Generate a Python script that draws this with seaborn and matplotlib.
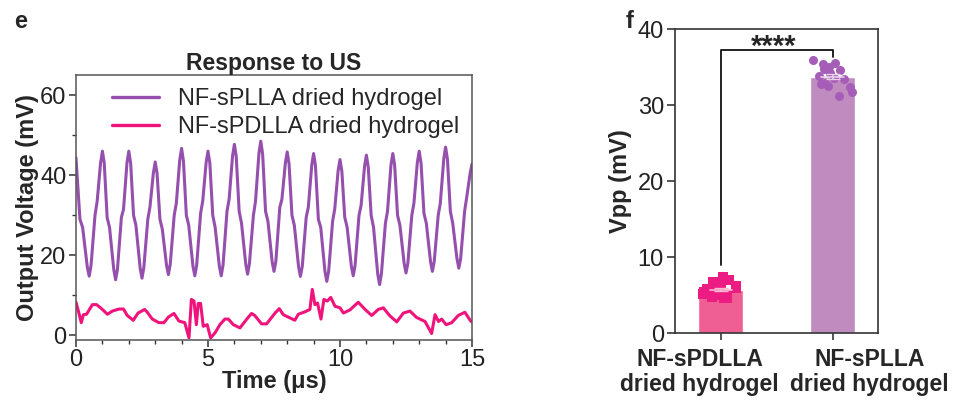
import numpy as np
import pandas as pd
import matplotlib
matplotlib.use("Agg")
import matplotlib.pyplot as plt
from matplotlib.ticker import MultipleLocator
from matplotlib.transforms import blended_transform_factory
import seaborn as sns

# ---------------- data: panel e ----------------
splla_t = [0.0, 0.15, 0.25, 0.43, 0.5, 0.57, 0.72, 0.8, 0.93,
           1.0, 1.07, 1.18, 1.27, 1.43, 1.5, 1.57, 1.72, 1.8, 1.93,
           2.0, 2.07, 2.18, 2.27, 2.43, 2.5, 2.57, 2.72, 2.8, 2.93,
           3.0, 3.07, 3.18, 3.27, 3.43, 3.5, 3.57, 3.72, 3.8, 3.93,
           4.0, 4.07, 4.18, 4.27, 4.43, 4.5, 4.57, 4.72, 4.8, 4.93,
           5.0, 5.07, 5.18, 5.27, 5.43, 5.5, 5.57, 5.72, 5.8, 5.93,
           6.0, 6.07, 6.18, 6.27, 6.43, 6.5, 6.57, 6.72, 6.8, 6.93,
           7.0, 7.07, 7.18, 7.27, 7.43, 7.5, 7.57, 7.72, 7.8, 7.93,
           8.0, 8.07, 8.18, 8.27, 8.43, 8.5, 8.57, 8.72, 8.8, 8.93,
           9.0, 9.07, 9.18, 9.27, 9.43, 9.5, 9.57, 9.72, 9.8, 9.93,
           10.0, 10.07, 10.18, 10.27, 10.43, 10.5, 10.57, 10.72, 10.8, 10.93,
           11.0, 11.07, 11.18, 11.27, 11.43, 11.5, 11.57, 11.72, 11.8, 11.93,
           12.0, 12.07, 12.18, 12.27, 12.43, 12.5, 12.57, 12.72, 12.8, 12.93,
           13.0, 13.07, 13.18, 13.27, 13.43, 13.5, 13.57, 13.72, 13.8, 13.93,
           14.0, 14.07, 14.18, 14.27, 14.43, 14.5, 14.57, 14.72, 14.8, 14.93,
           15.0]
splla_v = [44.3, 29.0, 27.0, 17.0, 14.8, 17.5, 30.0, 33.4, 43.0,
           46.0, 43.0, 29.4, 27.0, 16.5, 13.9, 16.5, 29.5, 31.5, 43.0,
           46.0, 43.0, 30.0, 27.5, 16.8, 14.3, 17.0, 29.0, 32.0, 40.5,
           43.3, 40.5, 29.0, 26.5, 17.5, 15.2, 17.8, 30.0, 33.0, 43.8,
           46.7, 43.5, 30.0, 27.5, 17.3, 14.9, 17.5, 30.5, 33.5, 43.2,
           46.0, 43.0, 30.0, 27.0, 17.3, 14.9, 17.6, 31.0, 34.0, 44.8,
           47.7, 44.6, 31.0, 28.0, 17.8, 15.3, 18.0, 30.0, 33.5, 45.5,
           48.5, 45.2, 31.0, 28.5, 18.4, 16.0, 18.5, 32.0, 34.0, 43.0,
           45.8, 42.8, 30.0, 27.5, 17.2, 14.75, 17.2, 29.5, 32.0, 42.5,
           45.4, 42.4, 29.0, 27.0, 16.0, 13.5, 16.0, 28.5, 31.5, 41.2,
           43.9, 41.0, 29.5, 27.0, 17.3, 14.9, 17.4, 30.0, 32.5, 42.2,
           45.0, 42.0, 30.0, 27.0, 15.3, 12.7, 15.5, 28.0, 31.0, 42.5,
           45.4, 42.5, 30.0, 27.5, 18.0, 15.6, 18.0, 30.0, 33.0, 43.2,
           46.0, 43.0, 30.5, 28.0, 18.4, 16.0, 18.5, 30.0, 33.0, 44.0,
           47.0, 44.0, 31.0, 28.0, 19.2, 16.8, 19.2, 31.0, 34.5, 40.5,
           42.8]

spdlla_t = [0.0, 0.11, 0.2, 0.28, 0.4, 0.62, 0.78, 1.0, 1.19, 1.38, 1.63, 1.8,
            1.94, 2.17, 2.35, 2.6, 2.7, 2.89, 3.14, 3.33, 3.5, 3.71, 3.9, 4.12,
            4.28, 4.37, 4.47, 4.56, 4.63, 4.72, 4.82, 4.97, 5.1, 5.27, 5.45, 5.64,
            5.77, 5.96, 6.21, 6.47, 6.65, 6.77, 7.03, 7.22, 7.35, 7.54, 7.7, 7.85,
            8.1, 8.29, 8.42, 8.67, 8.86, 8.95, 9.05, 9.15, 9.28, 9.39, 9.52, 9.65,
            9.81, 10.0, 10.13, 10.38, 10.69, 10.95, 11.2, 11.45, 11.64, 11.89, 12.15, 12.4,
            12.65, 12.9, 13.22, 13.47, 13.6, 13.73, 13.85, 14.02, 14.23, 14.48, 14.73, 14.95,
            15.0]
spdlla_v = [8.3, 5.6, 3.2, 5.2, 5.3, 7.7, 7.7, 6.5, 5.3, 6.1, 6.6, 6.6,
            5.0, 3.8, 5.6, 6.5, 5.8, 4.1, 3.2, 3.2, 4.6, 5.5, 3.6, 3.2,
            -0.6, 9.0, 8.6, 2.7, 8.0, 8.0, 2.3, 2.7, -0.6, 0.7, 2.7, 4.1,
            4.1, 2.7, 1.9, 4.1, 5.5, 5.0, 2.9, 2.9, 4.0, 5.6, 6.7, 5.2,
            4.4, 3.8, 5.3, 5.9, 6.5, 11.5, 7.7, 8.1, 4.1, 9.0, 8.6, 9.5,
            7.3, 6.9, 5.6, 6.4, 8.3, 6.5, 5.0, 6.5, 6.9, 4.9, 3.4, 5.6,
            6.1, 4.5, 3.5, 0.5, 5.2, 3.5, 4.1, 2.7, 3.2, 5.0, 5.8, 3.6,
            3.4]

series_names = ["NF-sPLLA dried hydrogel", "NF-sPDLLA dried hydrogel"]

# ---------------- data: panel f ----------------
groups = ["NF-sPDLLA\ndried hydrogel", "NF-sPLLA\ndried hydrogel"]
spdlla_vpp = [7.4, 7.0, 6.8, 6.6, 6.2, 6.0, 5.8, 5.6, 5.5, 5.4, 5.2, 5.0, 5.0, 4.8, 4.7, 4.6]
splla_vpp = [36.0, 35.6, 35.4, 35.0, 34.8, 34.6, 34.2, 33.8, 33.6, 33.4, 33.0, 32.8, 32.6, 32.4, 31.8, 31.2]
sig_label = "****"

# ---------------- style ----------------
sns.set_theme(style="ticks")
plt.rcParams["font.family"] = ["Liberation Sans", "DejaVu Sans"]
plt.rcParams["axes.linewidth"] = 1.2

PURPLE = "#9550AE"
PINK = "#F0137B"
BAR_PINK = "#EF5F93"
BAR_PURPLE = "#C08CC0"
DOT_PINK = "#EC1C82"
DOT_PURPLE = "#A55DB8"

TICK_FS = 17
LABEL_FS = 17

fig = plt.figure(figsize=(9.6, 4.04), dpi=100)

# ---------------- panel e ----------------
ax1 = fig.add_axes([76 / 960, 1 - 339.5 / 404, (472 - 76) / 960, (339.5 - 75) / 404])
df_line = pd.concat([
    pd.DataFrame({"t": splla_t, "v": splla_v, "s": series_names[0]}),
    pd.DataFrame({"t": spdlla_t, "v": spdlla_v, "s": series_names[1]}),
])
sns.lineplot(data=df_line, x="t", y="v", hue="s", palette=[PURPLE, PINK],
             estimator=None, sort=False, lw=2.2, ax=ax1)
ax1.set_xlim(0, 15)
ax1.set_ylim(-1, 65)
ax1.xaxis.set_major_locator(MultipleLocator(5))
ax1.xaxis.set_minor_locator(MultipleLocator(1))
ax1.yaxis.set_major_locator(MultipleLocator(20))
ax1.yaxis.set_minor_locator(MultipleLocator(10))
ax1.tick_params(axis="both", which="major", direction="out", length=5, width=1.1,
                labelsize=TICK_FS, colors="#333333", labelcolor="#222222", pad=2)
ax1.tick_params(axis="both", which="minor", direction="out", length=3, width=1.0, colors="#333333")
for sp in ax1.spines.values():
    sp.set_color("#555555")
    sp.set_linewidth(1.1)
ax1.set_xlabel("Time (μs)", fontsize=LABEL_FS, fontweight="bold", labelpad=-1)
ax1.set_ylabel("Output Voltage (mV)", fontsize=LABEL_FS, fontweight="bold", labelpad=1)
ax1.set_title("Response to US", fontsize=16.5, fontweight="bold", pad=3)
leg = ax1.legend(loc="upper right", frameon=False, fontsize=17, handlelength=2.0,
                 handletextpad=0.8, borderaxespad=0.15, labelspacing=0.25,
                 bbox_to_anchor=(1.0, 1.0))
for line in leg.get_lines():
    line.set_linewidth(2.4)

# ---------------- panel f ----------------
ax2 = fig.add_axes([675 / 960, 1 - 333.3 / 404, (878.3 - 675) / 960, (333.3 - 29.3) / 404])
df_bar = pd.DataFrame({
    "g": [groups[0]] * len(spdlla_vpp) + [groups[1]] * len(splla_vpp),
    "v": spdlla_vpp + splla_vpp,
})
sns.barplot(data=df_bar, x="g", y="v", hue="g", order=groups, hue_order=groups,
            palette=[BAR_PINK, BAR_PURPLE], errorbar=None, width=0.4,
            legend=False, ax=ax2, saturation=1)
np.random.seed(3)
sns.stripplot(data=df_bar[df_bar.g == groups[0]], x="g", y="v", order=groups,
              color=DOT_PINK, marker="s", size=6.5, jitter=0.17, ax=ax2)
sns.stripplot(data=df_bar[df_bar.g == groups[1]], x="g", y="v", order=groups,
              color=DOT_PURPLE, marker="o", size=6.5, jitter=0.18, ax=ax2)
for i, vals in enumerate([spdlla_vpp, splla_vpp]):
    arr = np.asarray(vals)
    m = arr.mean()
    sem = arr.std(ddof=1) / np.sqrt(len(arr))
    c = "#E8D0E8" if i else "#F8B8D0"
    ax2.errorbar(i, m, yerr=sem, color=c, capsize=5, lw=1.2, zorder=5)
    ax2.plot([i - 0.1, i + 0.1], [m, m], color=c, lw=1.2, zorder=5)

# significance bracket
ax2.plot([0, 0, 1, 1], [9.0, 37.3, 37.3, 36.3], color="#111111", lw=1.3, zorder=6)
ax2.text(0.47, 37.7, sig_label, ha="center", va="center", fontsize=21, fontweight="bold")

ax2.set_xlim(-0.41, 1.41)
ax2.set_ylim(0, 40)
ax2.yaxis.set_major_locator(MultipleLocator(10))
ax2.tick_params(axis="y", which="major", direction="out", length=6, width=1.1,
                labelsize=TICK_FS, labelcolor="#222222", pad=2)
ax2.tick_params(axis="x", which="major", direction="out", length=5, width=1.1)
ax2.set_xticks([0, 1])
ax2.set_xticklabels(["", ""])
for sp in ax2.spines.values():
    sp.set_visible(True)
    sp.set_color("#333333")
    sp.set_linewidth(1.2)
ax2.set_xlabel("")
ax2.set_ylabel("Vpp (mV)", fontsize=LABEL_FS, fontweight="bold", labelpad=4)

# category labels (offset outward like the original)
btr = blended_transform_factory(ax2.transData, ax2.transAxes)
for xpos, lab in zip([-0.19, 1.33], groups):
    ax2.text(xpos, -0.05, lab, transform=btr, ha="center", va="top",
             fontsize=16.5, fontweight="bold", linespacing=1.1)

# panel letters
fig.text(14 / 960, 1 - 22 / 404, "e", fontsize=17, fontweight="bold", va="center")
fig.text(626 / 960, 1 - 22 / 404, "f", fontsize=17, fontweight="bold", va="center")

fig.savefig("out.png", dpi=100)
